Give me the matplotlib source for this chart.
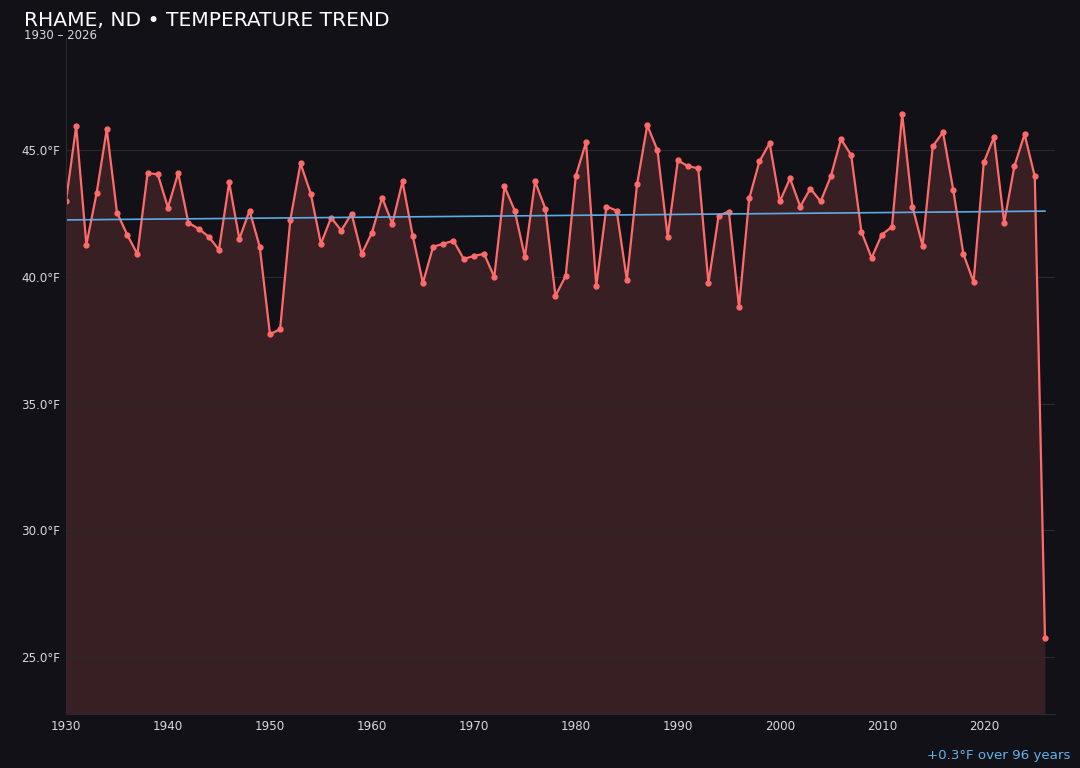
import numpy as np
import matplotlib.pyplot as plt
from matplotlib.ticker import FuncFormatter

years = np.arange(1930, 2027)
temps = [
    43.0, 45.95, 41.27, 43.3, 45.83, 42.54, 41.67, 40.9, 44.1, 44.05,
    42.74, 44.1, 42.14, 41.9, 41.59, 41.07, 43.73, 41.5, 42.62, 41.19,
    37.74, 37.94, 42.26, 44.48, 43.29, 41.31, 42.34, 41.83, 42.5, 40.91,
    41.75, 43.13, 42.1, 43.77, 41.63, 39.76, 41.19, 41.31, 41.43, 40.71,
    40.83, 40.91, 40.0, 43.57, 42.62, 40.79, 43.77, 42.7, 39.25, 40.04,
    44.0, 45.32, 39.64, 42.78, 42.62, 39.88, 43.65, 45.99, 45.0, 41.59,
    44.6, 44.37, 44.29, 39.76, 42.42, 42.58, 38.81, 43.1, 44.56, 45.28,
    42.98, 43.89, 42.78, 43.49, 42.98, 43.97, 45.44, 44.8, 41.79, 40.75,
    41.67, 41.98, 46.43, 42.78, 41.23, 45.16, 45.71, 43.45, 40.91, 39.8,
    44.52, 45.52, 42.14, 44.37, 45.63, 43.97, 25.75,
]
temps = np.array(temps)

bg = '#121117'
line_color = '#ff6b6b'
trend_color = '#63b3ed'

fig = plt.figure(figsize=(10.8, 7.68), dpi=100, facecolor=bg)
ax = fig.add_axes([0.0611, 0.0703, 0.9159, 0.8802])
ax.set_facecolor(bg)

ymin = temps.min() - 3
ymax = temps.max() + 3
ax.fill_between(years, temps, ymin, color=line_color, alpha=0.16, linewidth=0)
ax.plot(years, temps, color=line_color, linewidth=1.6, marker='o', markersize=3.5)

# linear trend over all years
coef = np.polyfit(years, temps, 1)
ax.plot(years, np.polyval(coef, years), color=trend_color, linewidth=1.2, alpha=0.95)

ax.set_xlim(1930, 2027)
ax.set_ylim(ymin, ymax)
ax.set_xticks(np.arange(1930, 2021, 10))
ax.set_yticks([25, 30, 35, 40, 45])
ax.yaxis.set_major_formatter(FuncFormatter(lambda v, p: f'{v:.1f}°F'))
ax.tick_params(colors='#d8d8de', labelsize=8.6, length=0, pad=4)
ax.grid(axis='y', color='#2a2930', linewidth=0.8)
ax.grid(axis='x', visible=False)
for s in ['top', 'right']:
    ax.spines[s].set_visible(False)
for s in ['left', 'bottom']:
    ax.spines[s].set_color('#2a2930')

fig.text(0.022, 0.973, 'RHAME, ND • TEMPERATURE TREND', color='white',
         fontsize=14.6, ha='left', va='center')
fig.text(0.022, 0.954, f'{years[0]} – {years[-1]}', color='#d8d8de',
         fontsize=8.5, ha='left', va='center')
change = coef[0] * (years[-1] - years[0])
fig.text(0.991, 0.016, f'{change:+.1f}°F over {years[-1] - years[0]} years',
         color=trend_color, fontsize=9.6, ha='right', va='center')

fig.savefig('out.png', dpi=100, facecolor=bg)
